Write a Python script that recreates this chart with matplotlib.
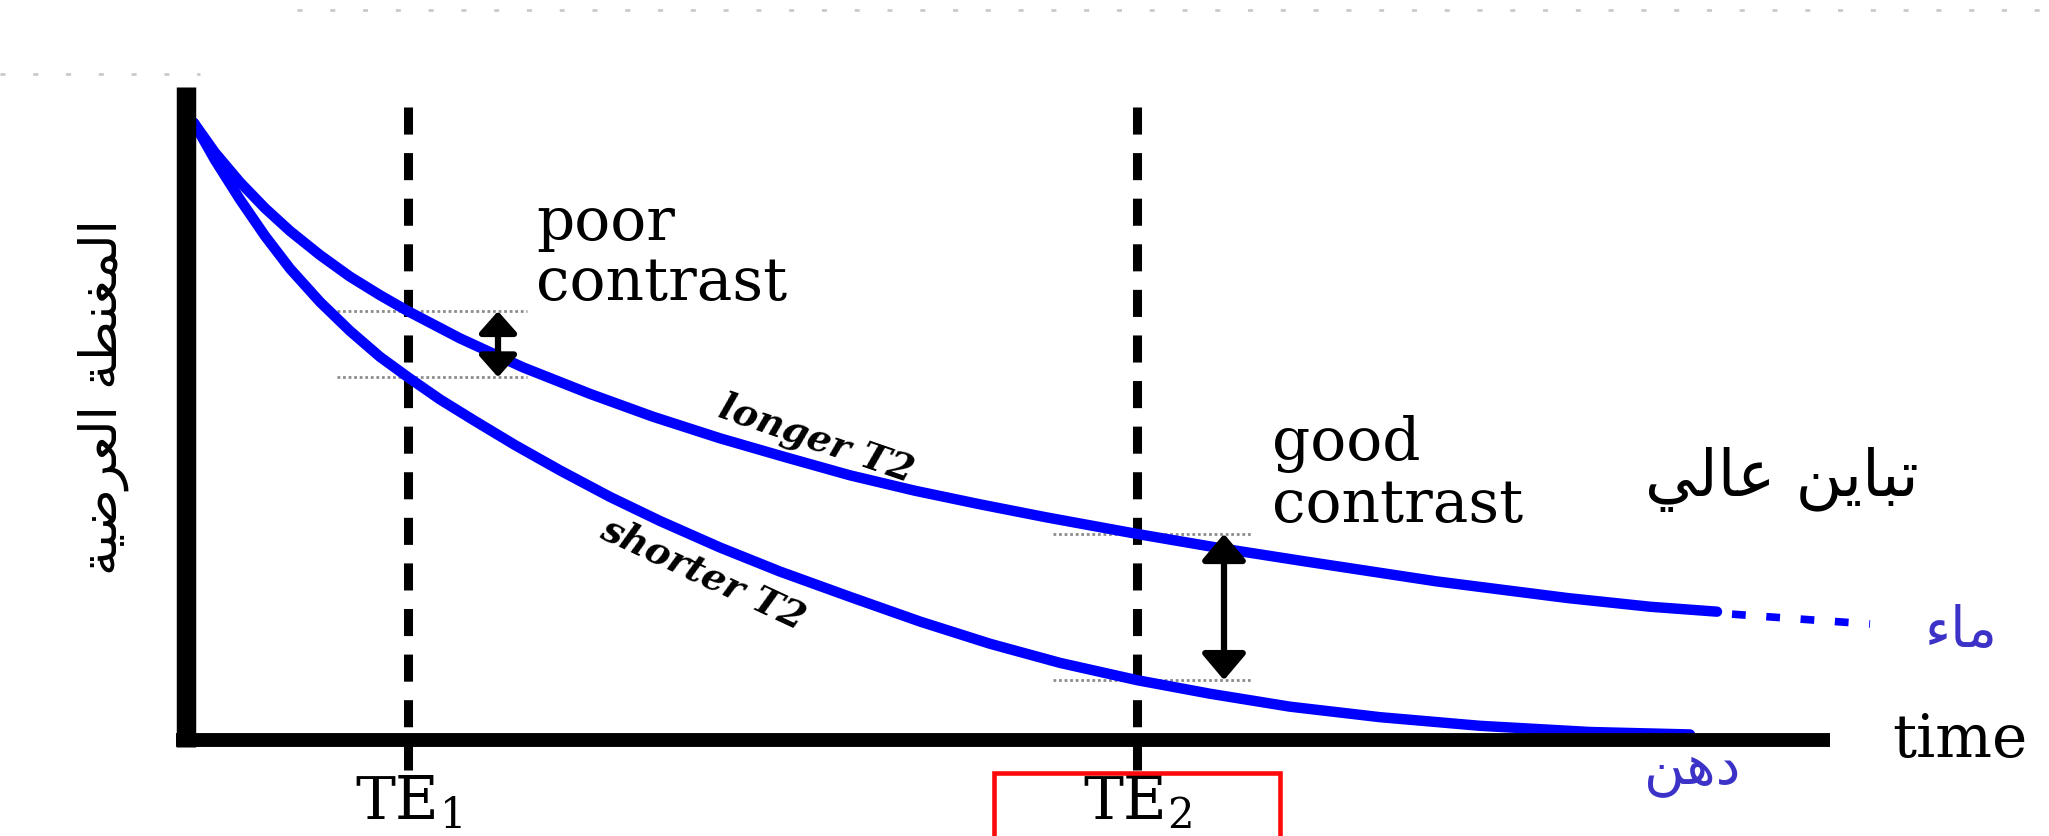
import matplotlib
matplotlib.use('Agg')
import numpy as np
import matplotlib.pyplot as plt
from matplotlib.patches import Rectangle

# ---------------- data ----------------
# time in arbitrary units (0 = vertical axis), signal normalised to 100 at t=0
t_long = [0.8, 2.9, 5.4, 7.9, 10.4, 13.4, 16.4, 19.4, 22.2, 27.4, 33.7, 40.4, 46.7,
          53.4, 59.8, 66.4, 72.9, 79.4, 86.0, 95.1, 103.4, 112.1, 125.1, 138.2, 146.4, 153.1]
s_long = [100.0, 95.2, 90.4, 86.2, 82.5, 78.6, 75.1, 72.1, 69.5, 65.1, 60.4, 56.1, 52.4,
          48.9, 45.9, 42.9, 40.4, 38.2, 36.1, 33.4, 31.1, 28.9, 25.7, 23.0, 21.6, 20.8]
t_long_tail = [154.6, 161.4, 168.4]
s_long_tail = [20.4, 19.6, 18.8]

t_short = [0.8, 2.9, 5.4, 7.9, 10.4, 13.4, 16.4, 19.4, 22.2, 25.4, 28.9, 32.9, 37.4, 42.4,
           47.4, 53.4, 59.4, 66.4, 73.4, 80.4, 87.4, 95.1, 102.4, 110.4, 119.4, 129.4,
           140.4, 150.4]
s_short = [100.0, 94.0, 87.6, 81.7, 76.4, 71.0, 66.3, 62.1, 58.8, 55.2, 51.7, 47.8, 43.7,
           39.4, 35.5, 31.2, 27.3, 23.2, 19.2, 15.6, 12.5, 9.7, 7.5, 5.4, 3.7, 2.3, 1.3, 0.9]

te_values = [22.2, 95.1]
te_labels = ['TE$_1$', 'TE$_2$']
contrast_words = [['poor', 'contrast'], ['good', 'contrast']]
curve_labels = ['longer T2', 'shorter T2']
axis_label_x = 'time'
# Arabic strings in visual order using presentation forms
ar_ylabel = '\uFE94\uFEF4\uFEBF\uFEAE\uFECC\uFEDF\uFE8D \uFE94\uFEC4\uFEE8\uFED0\uFEE4\uFEDF\uFE8D'  # المغنطة العرضية
ar_high = '\uFEF2\uFEDF\uFE8E\uFECB \uFEE6\uFEF3\uFE8E\uFE92\uFE97'  # تباين عالي
ar_water = '\uFE80\uFE8E\uFEE3'  # ماء
ar_fat = '\uFEE6\uFEEB\uFEA9'    # دهن

# ---------------- figure ----------------
plt.rcParams['mathtext.fontset'] = 'dejavuserif'
fig = plt.figure(figsize=(20.49, 8.36), dpi=100)
ax = fig.add_axes([0, 0, 1, 1])
ax.set_xlim(-18.6, 186.3)
ax.set_ylim(-15.56, 119.94)
ax.axis('off')

serif = 'DejaVu Serif'
blue = '#0000ff'
ar_blue = '#3c32c8'

# faint dotted rows at the top (scan artefacts)
ax.plot([11.1, 186.3], [118.3, 118.3], color='#c8ccc8', lw=2, ls=(0, (1.8, 10)))
ax.plot([-18.6, 1.4], [107.9, 107.9], color='#c8ccc8', lw=2, ls=(0, (1.8, 10)))

# axes lines
ax.plot([0, 0], [105.8, -1.13], color='black', lw=14, solid_capstyle='butt', zorder=5)
ax.plot([-1.0, 164.4], [0, 0], color='black', lw=10, solid_capstyle='butt', zorder=5)

# TE dashed lines
for te in te_values:
    ax.plot([te, te], [102.6, -4.9], color='black', lw=6.5, ls=(0, (3.0, 2.05)),
            dash_capstyle='butt', zorder=3)

# curves
ax.plot(t_long, s_long, color=blue, lw=7.5, solid_capstyle='round',
        solid_joinstyle='round', zorder=4)
ax.plot(t_long_tail, s_long_tail, color=blue, lw=5.5, ls=(0, (1.8, 2.7)), zorder=4)
ax.plot(t_short, s_short, color=blue, lw=7.5, solid_capstyle='round',
        solid_joinstyle='round', zorder=4)

# contrast guides and arrows
guide_offsets = [(-7.1, 11.9), (-8.4, 11.4)]
arrow_offsets = [9.0, 8.7]
head = [(1.3, 1.15), (1.6, 1.35)]
for te, (g0, g1), ao, (hl, hw) in zip(te_values, guide_offsets, arrow_offsets, head):
    s_hi = np.interp(te, t_long, s_long)
    s_lo = np.interp(te, t_short, s_short)
    for s in (s_hi, s_lo):
        ax.plot([te + g0, te + g1], [s, s], color='#8c8c8c', lw=2, ls=(0, (1, 1)), zorder=2)
    ax.annotate('', xy=(te + ao, s_lo), xytext=(te + ao, s_hi),
                arrowprops=dict(arrowstyle=f'<|-|>,head_length={hl},head_width={hw}',
                                mutation_scale=10, lw=4.5, color='black',
                                shrinkA=0, shrinkB=0), zorder=6)

# contrast texts
txt_pos = [(35.0, 81.0, 71.3), (108.6, 45.4, 35.3)]
for (x, y1, y2), words in zip(txt_pos, contrast_words):
    ax.text(x, y1, words[0], family=serif, fontsize=43, ha='left', va='baseline')
    ax.text(x, y2, words[1], family=serif, fontsize=43, ha='left', va='baseline')

# curve labels
ax.text(63.0, 48.8, curve_labels[0], family=serif, fontsize=27, style='italic',
        weight='bold', rotation=-19, ha='center', va='center', rotation_mode='anchor')
ax.text(51.7, 27.0, curve_labels[1], family=serif, fontsize=27, style='italic',
        weight='bold', rotation=-25, ha='center', va='center', rotation_mode='anchor')

# axis labels
ax.text(177.4, -2.76, axis_label_x, family=serif, fontsize=43, ha='center', va='baseline')
for te, lab in zip(te_values, te_labels):
    ax.text(te, -12.9, lab, family=serif, fontsize=43, ha='center', va='baseline')

# red box around TE2
ax.add_patch(Rectangle((te_values[1] - 14.3, -25), 28.6, 25 - 5.35, fill=False,
                       edgecolor='#ff0a0a', lw=3.3, zorder=6))

# Arabic texts
ax.text(-8.3, 55.6, ar_ylabel, family='DejaVu Sans', fontsize=37, rotation=90,
        ha='center', va='center')
ax.text(159.6, 39.5, ar_high, family='DejaVu Sans', fontsize=46, ha='center', va='baseline')
ax.text(177.5, 15.0, ar_water, family='DejaVu Sans', fontsize=40, ha='center',
        va='baseline', color=ar_blue)
ax.text(150.6, -7.0, ar_fat, family='DejaVu Sans', fontsize=40, ha='center',
        va='baseline', color=ar_blue)

fig.savefig('out.png', dpi=100)
